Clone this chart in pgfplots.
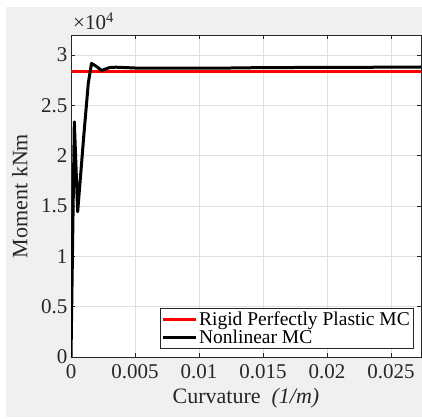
\documentclass[border=0pt]{standalone}
\usepackage{pgfplots}
\pgfplotsset{compat=1.18}
\usepackage{fontspec}
\setmainfont{Liberation Serif}
\definecolor{bgc}{HTML}{F0F0F0}
\definecolor{gridc}{HTML}{DFDFDF}
\definecolor{axc}{HTML}{262626}
\begin{document}
\begin{tikzpicture}[x=1pt,y=1pt]
\useasboundingbox (0,0) rectangle (422,419);
\fill[bgc] (6,2) rectangle (422,412);
\begin{axis}[
  at={(71pt,62pt)}, anchor=south west,
  scale only axis, width=350pt, height=322pt,
  xmin=0, xmax=0.02734, ymin=0, ymax=32000,
  scaled x ticks=false, scaled y ticks=false,
  /pgf/number format/assume math mode=true,
  axis background/.style={fill=white},
  xtick={0,0.005,0.01,0.015,0.02,0.025},
  xticklabels={\textrm{0},\textrm{0.005},\textrm{0.01},\textrm{0.015},\textrm{0.02},\textrm{0.025}},
  ytick={0,5000,10000,15000,20000,25000,30000},
  yticklabels={\textrm{0},\textrm{0.5},\textrm{1},\textrm{1.5},\textrm{2},\textrm{2.5},\textrm{3}},
  tick align=inside, major tick length=4pt,
  tick style={axc, line width=0.6pt},
  axis line style={axc, line width=0.8pt},
  grid=major, major grid style={gridc, line width=0.6pt},
  tick label style={font=\fontsize{21}{25}\selectfont, text=axc},
  xticklabel style={yshift=-4pt},
  every axis x label/.style={at={(axis description cs:0.5,-0.127)}, anchor=center},
  every axis y label/.style={at={(axis description cs:-0.146,0.5)}, rotate=90, anchor=center},
  label style={font=\fontsize{22}{26}\selectfont, text=axc},
  xlabel={Curvature \ \textit{(1/m)}},
  ylabel={Moment kNm},
  legend style={at={(1,0)}, anchor=south east, xshift=-8pt, yshift=9pt,
    font=\fontsize{19.5}{20}\selectfont, draw=axc, fill=white, inner sep=1pt,
    cells={anchor=west}, row sep=-1pt},
  legend image code/.code={\draw[#1] (0pt,0pt) -- (33pt,0pt);},
  after end axis/.code={
    \node[anchor=south west, inner sep=0pt, font=\fontsize{21}{25}\selectfont, text=axc]
      at (rel axis cs:0,1) [yshift=5pt, xshift=2pt] {×10\textsuperscript{4}};
  },
]
\addplot[red, line width=3pt] coordinates {(0,28380) (0.0274,28380)};
\addlegendentry{Rigid Perfectly Plastic MC}
\addplot[black, line width=3pt, line join=round] coordinates {
(0,0) (0.00026,23370) (0.00052,14430) (0.0010,22000) (0.00135,27200)
(0.0016,29170) (0.0019,28950) (0.0024,28480) (0.0030,28760) (0.0035,28800)
(0.005,28720) (0.0075,28700) (0.010,28700) (0.0125,28720) (0.015,28760)
(0.0175,28770) (0.020,28780) (0.0225,28790) (0.025,28800) (0.0274,28820)};
\addlegendentry{Nonlinear MC}
\end{axis}
\end{tikzpicture}
\end{document}
